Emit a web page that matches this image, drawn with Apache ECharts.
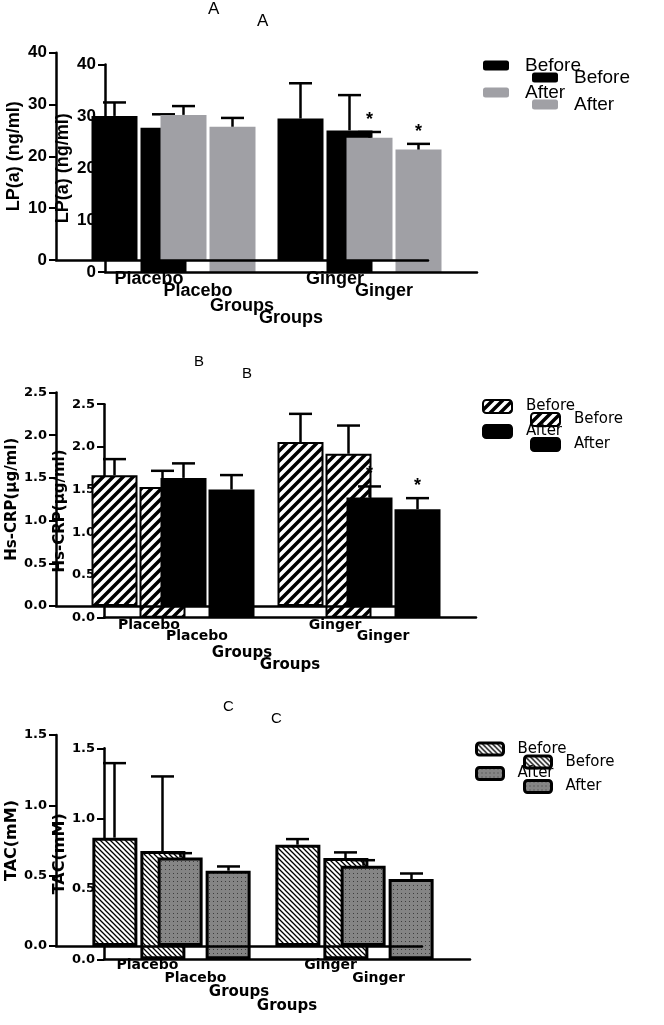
<!DOCTYPE html>
<html>
<head>
<meta charset="utf-8">
<script src="https://cdn.jsdelivr.net/npm/echarts@6/dist/echarts.min.js"></script>
<style>
  html, body { margin: 0; padding: 0; background: #fff; }
  #chart { width: 664px; height: 1025px; }
</style>
</head>
<body>
<div id="chart"></div>
<script>
// groups on the x axis
const categories = ['Placebo', 'Ginger'];

// A: LP(a) (ng/ml) - mean and mean + SD
const lpaBefore = [27.8, 27.3];
const lpaAfter = [28.0, 23.6];
const lpaBeforeTop = [30.4, 34.1];
const lpaAfterTop = [29.7, 24.7];
const lpaStars = [false, true];

// B: Hs-CRP (µg/ml)
const crpBefore = [1.53, 1.92];
const crpAfter = [1.50, 1.27];
const crpBeforeTop = [1.72, 2.25];
const crpAfterTop = [1.67, 1.40];
const crpStars = [false, true];

// C: TAC (mM)
const tacBefore = [0.77, 0.72];
const tacAfter = [0.63, 0.57];
const tacBeforeTop = [1.30, 0.76];
const tacAfterTop = [0.66, 0.61];
const tacStars = [false, false];

// fill patterns drawn on small canvases
function hatch(size, width, slash) {
  const c = document.createElement('canvas');
  c.width = c.height = size;
  const ctx = c.getContext('2d');
  ctx.fillStyle = '#fff';
  ctx.fillRect(0, 0, size, size);
  ctx.strokeStyle = '#000';
  ctx.lineWidth = width;
  ctx.beginPath();
  for (let k = -1; k <= 1; k++) {
    if (slash) {
      ctx.moveTo(k * size - 2, size + 2);
      ctx.lineTo(k * size + size + 2, -2);
    } else {
      ctx.moveTo(k * size - 2, -2);
      ctx.lineTo(k * size + size + 2, size + 2);
    }
  }
  ctx.stroke();
  return { image: c, repeat: 'repeat' };
}

function dots(size, bg, fg) {
  const c = document.createElement('canvas');
  c.width = c.height = size;
  const ctx = c.getContext('2d');
  ctx.fillStyle = bg;
  ctx.fillRect(0, 0, size, size);
  ctx.fillStyle = fg;
  ctx.fillRect(1, 1, 1, 1);
  return { image: c, repeat: 'repeat' };
}

const panels = [
  {
    key: 'A',
    grids: [
      { left: 105, top: 64.5, width: 372, height: 207.5 },
      { left: 56, top: 52.7, width: 372, height: 207.3 }
    ],
    titles: [{ left: 257, top: 13 }, { left: 208, top: 1 }],
    titleFont: 17,
    legends: [{ left: 532, top: 68 }, { left: 483, top: 56 }],
    legendIcon: [26, 10], legendGap: 8, legendPad: 11, legendFont: 19,
    legendFamily: 'Liberation Sans', legendBorder: 0,
    max: 40, interval: 10, fmt: v => String(v),
    yName: 'LP(a) (ng/ml)', yNameGap: 33,
    family: 'Liberation Sans', yLabelSize: 17, xLabelSize: 18, yNameSize: 18, xNameSize: 18,
    xLabelMargin: 10, xNameGap: 37,
    barWidth: 46, barGap: '50%', shift: 34.5,
    before: lpaBefore, after: lpaAfter, beforeTop: lpaBeforeTop, afterTop: lpaAfterTop, stars: lpaStars,
    beforeStyle: { color: '#000' },
    afterStyle: { color: '#a0a0a5' }
  },
  {
    key: 'B',
    grids: [
      { left: 104, top: 404.2, width: 372, height: 213.5 },
      { left: 56, top: 392.5, width: 372, height: 213.5 }
    ],
    titles: [{ left: 242, top: 366 }, { left: 194, top: 354 }],
    titleFont: 15,
    legends: [{ left: 530, top: 410.5 }, { left: 482, top: 397.5 }],
    legendIcon: [29, 13], legendGap: 7, legendPad: 9, legendFont: 15,
    legendFamily: 'DejaVu Sans', legendBorder: 2,
    max: 2.5, interval: 0.5, fmt: v => v.toFixed(1),
    yName: 'Hs-CRP(µg/ml)', yNameGap: 36,
    family: 'DejaVu Sans', yLabelSize: 13, xLabelSize: 14, yNameSize: 15, xNameSize: 15,
    xLabelMargin: 12, xNameGap: 40,
    barWidth: 46, barGap: '50%', shift: 34.5,
    before: crpBefore, after: crpAfter, beforeTop: crpBeforeTop, afterTop: crpAfterTop, stars: crpStars,
    beforeStyle: { color: hatch(10, 3.5, true), borderColor: '#000', borderWidth: 2 },
    afterStyle: { color: '#000', borderColor: '#000', borderWidth: 2 }
  },
  {
    key: 'C',
    grids: [
      { left: 104, top: 748.3, width: 366, height: 211 },
      { left: 56, top: 735, width: 366, height: 211 }
    ],
    titles: [{ left: 271, top: 711 }, { left: 223, top: 699 }],
    titleFont: 15,
    legends: [{ left: 523, top: 753 }, { left: 475, top: 740 }],
    legendIcon: [27, 12], legendGap: 6.5, legendPad: 9, legendFont: 15,
    legendFamily: 'DejaVu Sans', legendBorder: 3,
    max: 1.5, interval: 0.5, fmt: v => v.toFixed(1),
    yName: 'TAC(mM)', yNameGap: 36,
    family: 'DejaVu Sans', yLabelSize: 13, xLabelSize: 14, yNameSize: 16, xNameSize: 15,
    xLabelMargin: 12, xNameGap: 39,
    barWidth: 45, barGap: '45%', shift: 33,
    before: tacBefore, after: tacAfter, beforeTop: tacBeforeTop, afterTop: tacAfterTop, stars: tacStars,
    beforeStyle: { color: hatch(5, 1.3, false), borderColor: '#000', borderWidth: 3 },
    afterStyle: { color: dots(4, '#858585', '#3c3c3c'), borderColor: '#000', borderWidth: 3 }
  }
];

const option = {
  animation: false,
  backgroundColor: '#fff',
  title: [], legend: [], grid: [], xAxis: [], yAxis: [], series: []
};

panels.forEach(p => {
  const nameBefore = p.key + ' Before';
  const nameAfter = p.key + ' After';
  // copy 0 is the offset one underneath, copy 1 sits on top
  [0, 1].forEach(copy => {
    const zb = copy === 0 ? 1 : 5;
    const gi = option.grid.length;
    option.grid.push(Object.assign({ containLabel: false, outerBoundsMode: 'none' }, p.grids[copy]));
    option.title.push({
      text: p.key, left: p.titles[copy].left, top: p.titles[copy].top, padding: 0,
      z: zb + 3,
      textStyle: { fontFamily: 'Liberation Sans', fontWeight: 'normal', fontSize: p.titleFont, color: '#000' }
    });
    option.legend.push({
      orient: 'vertical', left: p.legends[copy].left, top: p.legends[copy].top, padding: 0,
      itemWidth: p.legendIcon[0], itemHeight: p.legendIcon[1], itemGap: p.legendGap,
      selectedMode: false, z: zb + 3,
      data: [nameBefore, nameAfter],
      formatter: n => n.split(' ')[1],
      itemStyle: { borderWidth: p.legendBorder, borderColor: '#000' },
      textStyle: {
        fontFamily: p.legendFamily, fontSize: p.legendFont, color: '#000',
        lineHeight: 18, padding: [0, 0, 0, p.legendPad]
      }
    });
    option.xAxis.push({
      type: 'category', gridIndex: gi, data: categories, z: zb + 2,
      axisLine: { lineStyle: { color: '#000', width: 2.5 } },
      axisTick: { alignWithLabel: true, length: 6, lineStyle: { color: '#000', width: 2 } },
      axisLabel: {
        margin: p.xLabelMargin, color: '#000', fontFamily: p.family,
        fontWeight: 'bold', fontSize: p.xLabelSize
      },
      name: 'Groups', nameLocation: 'middle', nameGap: p.xNameGap, nameMoveOverlap: false,
      nameTextStyle: { color: '#000', fontFamily: p.family, fontWeight: 'bold', fontSize: p.xNameSize }
    });
    option.yAxis.push({
      type: 'value', gridIndex: gi, min: 0, max: p.max, interval: p.interval, z: zb + 2,
      splitLine: { show: false },
      axisLine: { show: true, lineStyle: { color: '#000', width: 2.5 } },
      axisTick: { show: true, length: 7, lineStyle: { color: '#000', width: 2 } },
      axisLabel: {
        margin: 9, color: '#000', fontFamily: p.family, fontWeight: 'bold',
        fontSize: p.yLabelSize, formatter: p.fmt
      },
      name: p.yName, nameLocation: 'middle', nameGap: p.yNameGap, nameMoveOverlap: false,
      nameTextStyle: { color: '#000', fontFamily: p.family, fontWeight: 'bold', fontSize: p.yNameSize }
    });
    const common = {
      type: 'bar', xAxisIndex: gi, yAxisIndex: gi, z: zb,
      barWidth: p.barWidth, barGap: p.barGap
    };
    option.series.push(Object.assign({}, common, {
      name: nameBefore, data: p.before, itemStyle: p.beforeStyle
    }));
    option.series.push(Object.assign({}, common, {
      name: nameAfter, data: p.after, itemStyle: p.afterStyle
    }));
    const errData = [];
    categories.forEach((c, i) => {
      errData.push([i, p.before[i], p.beforeTop[i], -1, 0]);
      errData.push([i, p.after[i], p.afterTop[i], 1, p.stars[i] ? 1 : 0]);
    });
    option.series.push({
      type: 'custom', xAxisIndex: gi, yAxisIndex: gi, z: zb + 1, silent: true,
      data: errData,
      renderItem: (params, api) => {
        const i = api.value(0);
        const base = api.coord([i, api.value(1)]);
        const tip = api.coord([i, api.value(2)]);
        const x = base[0] + api.value(3) * p.shift;
        const cap = 11.5;
        const st = { stroke: '#000', lineWidth: 2.5 };
        const children = [
          { type: 'line', shape: { x1: x, y1: base[1], x2: x, y2: tip[1] }, style: st },
          { type: 'line', shape: { x1: x - cap, y1: tip[1], x2: x + cap, y2: tip[1] }, style: st }
        ];
        if (api.value(4)) {
          children.push({
            type: 'text', x: x, y: tip[1] - 3,
            style: {
              text: '*', fill: '#000', align: 'center', verticalAlign: 'bottom',
              font: 'bold 18px "Liberation Sans"'
            }
          });
        }
        return { type: 'group', children: children };
      }
    });
  });
});

const chart = echarts.init(document.getElementById('chart'));
chart.setOption(option);
</script>
</body>
</html>
